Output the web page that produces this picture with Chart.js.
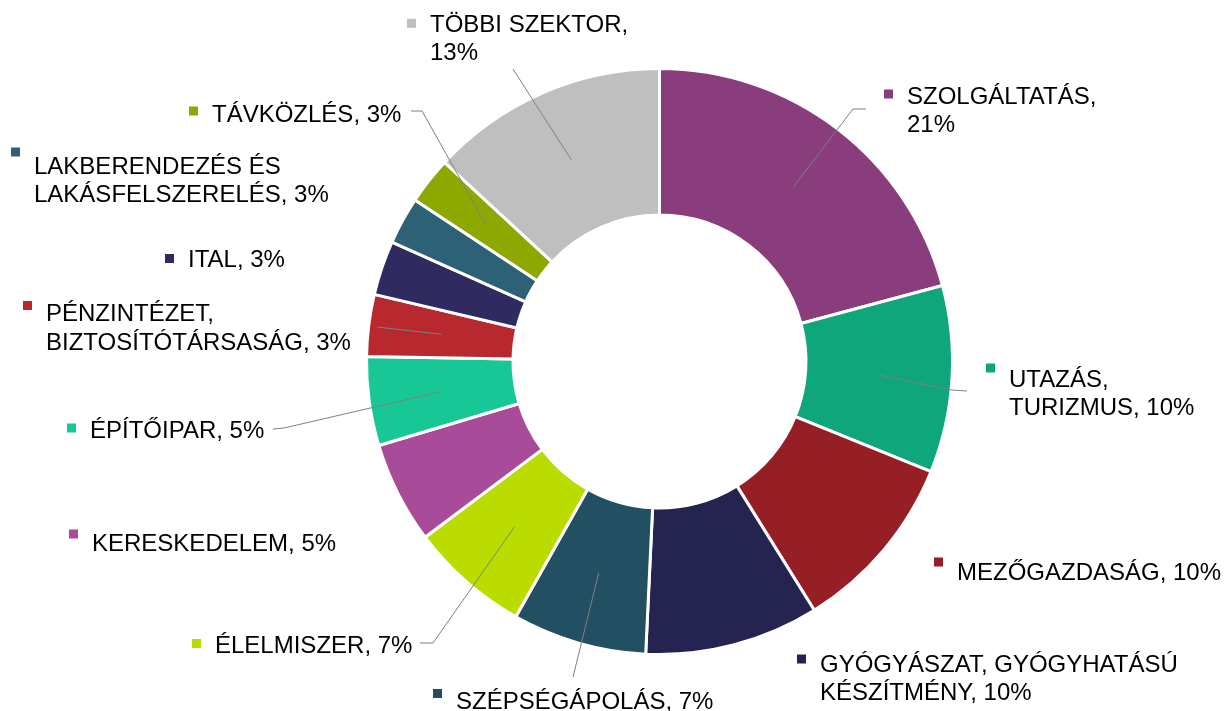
<!DOCTYPE html>
<html>
<head>
<meta charset="utf-8">
<script src="https://cdn.jsdelivr.net/npm/chart.js@4.4.1/dist/chart.umd.min.js"></script>
<style>
  html, body { margin: 0; padding: 0; background: #fff; }
  #wrap { width: 1227px; height: 711px; position: relative; }
</style>
</head>
<body>
<div id="wrap"><canvas id="sectorChart"></canvas></div>
<script>
// categories, clockwise from 12 o'clock
const categories = [
    'SZOLGÁLTATÁS',
    'UTAZÁS, TURIZMUS',
    'MEZŐGAZDASÁG',
    'GYÓGYÁSZAT, GYÓGYHATÁSÚ KÉSZÍTMÉNY',
    'SZÉPSÉGÁPOLÁS',
    'ÉLELMISZER',
    'KERESKEDELEM',
    'ÉPÍTŐIPAR',
    'PÉNZINTÉZET, BIZTOSÍTÓTÁRSASÁG',
    'ITAL',
    'LAKBERENDEZÉS ÉS LAKÁSFELSZERELÉS',
    'TÁVKÖZLÉS',
    'TÖBBI SZEKTOR'
];
// share of each sector (%)
const shares = [20.8, 10.3, 10.0, 9.6, 7.4, 6.6, 5.6, 4.9, 3.4, 3.0, 2.6, 2.6, 13.1];
// percentages as printed on the labels
const shownPercents = ['21%', '10%', '10%', '10%', '7%', '7%', '5%', '5%', '3%', '3%', '3%', '3%', '13%'];

const colors = [
    '#8A3D7C', '#10A67C', '#961F25', '#252350', '#224F62', '#BADC00', '#A84B98',
    '#17C896', '#B8292F', '#2F2A60', '#2D6176', '#8DA800', '#BFBFBF'
];

// label placement (text left, first line cap middle), wrap width, key offset, leader line
const labelLayout = [
    { x: 907, y: 95,    wrap: 215, key: -1,   elbow: [853, 109], end: [866, 109] },
    { x: 1009, y: 378,  wrap: 200, key: -10,  elbow: [952, 390], end: [967, 391] },
    { x: 957, y: 571,   wrap: 300, key: -9 },
    { x: 820, y: 663,   wrap: 380, key: -4 },
    { x: 456, y: 700,   wrap: 300, key: -6.5, end: [573, 677] },
    { x: 215, y: 644.5, wrap: 300, key: -1,   elbow: [433, 643], end: [420, 643] },
    { x: 92, y: 542,    wrap: 300, key: -8 },
    { x: 90, y: 429,    wrap: 300, key: -1,   elbow: [284, 428], end: [273, 429] },
    { x: 46, y: 312.5,  wrap: 320, key: -7,   end: [377, 327] },
    { x: 188, y: 258.5, wrap: 300, key: 0 },
    { x: 34, y: 165,    wrap: 310, key: -13 },
    { x: 212, y: 113,   wrap: 300, key: -2,   elbow: [422, 111], end: [411, 111] },
    { x: 430, y: 23.3,  wrap: 215, key: 0,    end: [513, 69] }
];

const FONT_SIZE = 24;
const LINE_H = 28.5;

function wrapWords(ctx, text, maxW) {
    const words = text.split(' ');
    const lines = [];
    let cur = '';
    words.forEach(w => {
        const test = cur ? cur + ' ' + w : w;
        if (cur && ctx.measureText(test).width > maxW) {
            lines.push(cur);
            cur = w;
        } else {
            cur = test;
        }
    });
    if (cur) lines.push(cur);
    return lines;
}

const outsideLabels = {
    id: 'outsideLabels',
    afterDatasetsDraw(chart) {
        const ctx = chart.ctx;
        const meta = chart.getDatasetMeta(0);
        ctx.save();
        // leader lines
        ctx.strokeStyle = '#808080';
        ctx.lineWidth = 1;
        meta.data.forEach((arc, i) => {
            const lay = labelLayout[i];
            if (!lay.end) return;
            const p = arc.getCenterPoint();
            ctx.beginPath();
            ctx.moveTo(p.x, p.y);
            if (lay.elbow) ctx.lineTo(lay.elbow[0], lay.elbow[1]);
            ctx.lineTo(lay.end[0], lay.end[1]);
            ctx.stroke();
        });
        // keys and texts
        ctx.font = FONT_SIZE + 'px "Liberation Sans", Arial, sans-serif';
        ctx.textBaseline = 'alphabetic';
        ctx.textAlign = 'left';
        categories.forEach((cat, i) => {
            const lay = labelLayout[i];
            const lines = wrapWords(ctx, cat + ', ' + shownPercents[i], lay.wrap);
            ctx.fillStyle = colors[i];
            ctx.fillRect(lay.x - 23, lay.y + lay.key - 4.5, 9, 9);
            ctx.fillStyle = '#000';
            lines.forEach((ln, k) => {
                ctx.fillText(ln, lay.x, lay.y + k * LINE_H + FONT_SIZE * 0.358);
            });
        });
        ctx.restore();
    }
};

new Chart(document.getElementById('sectorChart'), {
    type: 'doughnut',
    data: {
        labels: categories,
        datasets: [{
            data: shares,
            backgroundColor: colors,
            borderColor: '#ffffff',
            borderWidth: 3
        }]
    },
    options: {
        responsive: true,
        maintainAspectRatio: false,
        animation: false,
        cutout: '50%',
        layout: { padding: { left: 365, right: 273, top: 67, bottom: 55 } },
        plugins: {
            legend: { display: false },
            tooltip: { enabled: false }
        }
    },
    plugins: [outsideLabels]
});
</script>
</body>
</html>
